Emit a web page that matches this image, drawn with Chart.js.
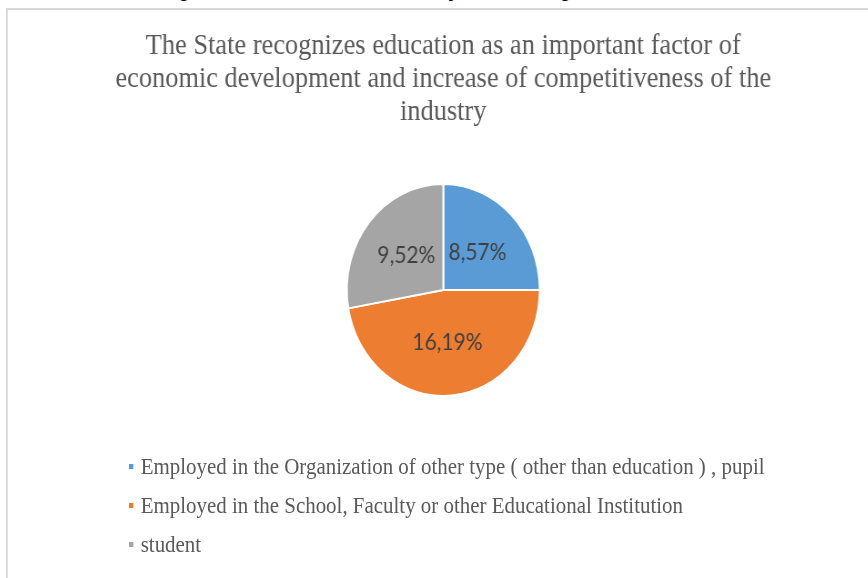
<!DOCTYPE html>
<html>
<head>
<meta charset="utf-8">
<title>Education as a factor of development</title>
<script src="https://cdn.jsdelivr.net/npm/chart.js@4.4.1/dist/chart.umd.min.js"></script>
<style>
  html, body { margin: 0; padding: 0; background: #fff; }
  #page { position: relative; width: 868px; height: 578px; overflow: hidden; background: #fff; }
  /* строка документа над рамкой диаграммы, почти целиком обрезана */
  #above { position: absolute; left: 16px; top: -25px; font: 26px "Liberation Serif", serif; line-height: 1; color: #000; white-space: nowrap; }
  #frame { position: absolute; left: 6px; top: 8px; width: 961px; height: 590px; border: 2px solid #dadada;
           box-sizing: border-box; transform: scaleX(0.91); transform-origin: 0 0; background: #fff; }
  #frame canvas { position: absolute; left: 0; top: 0; }
  #legend { position: absolute; left: 133px; top: 437px; font: 23px "Liberation Serif", serif; color: #595959; }
  #legend .item { height: 39px; line-height: 39px; white-space: nowrap; }
  #legend .box { display: inline-block; width: 5px; height: 5px; margin-right: 8px; vertical-align: middle; position: relative; top: -2px; }
</style>
</head>
<body>
<div id="page">
  <div id="above">increase of competitiveness of the industry in the Republic of Macedonia</div>
  <div id="frame">
    <canvas id="pie" width="957" height="586"></canvas>
    <div id="legend"></div>
  </div>
</div>
<script>
// Данные диаграммы
const titleLines = [
  'The State recognizes education as an important factor of',
  'economic development and increase of competitiveness of the',
  'industry'
];
const categories = [
  'Employed in the Organization of other type ( other than education ) , pupil',
  'Employed in the School, Faculty or other Educational Institution',
  'student'
];
const values = [8.57, 16.19, 9.52];
const colors = ['#5b9bd5', '#ed7d31', '#a5a5a5'];

// Подписи на секторах: 8,57%
const sliceLabels = values.map(v => v.toFixed(2).replace('.', ',') + '%');

const labelPlugin = {
  id: 'sliceLabels',
  afterDatasetsDraw(chart) {
    const ctx = chart.ctx;
    const meta = chart.getDatasetMeta(0);
    ctx.save();
    ctx.font = '23px Lato, "Open Sans", sans-serif';
    ctx.fillStyle = '#404040';
    ctx.textAlign = 'center';
    ctx.textBaseline = 'middle';
    meta.data.forEach((arc, i) => {
      const p = arc.tooltipPosition();
      ctx.fillText(sliceLabels[i], p.x, p.y);
    });
    ctx.restore();
  }
};

new Chart(document.getElementById('pie'), {
  type: 'pie',
  data: {
    labels: categories,
    datasets: [{
      data: values,
      backgroundColor: colors,
      borderColor: '#ffffff',
      borderWidth: 2,
      hoverOffset: 0
    }]
  },
  options: {
    responsive: false,
    animation: false,
    layout: { padding: { top: 0, bottom: 199, left: 0, right: 0 } },
    plugins: {
      legend: { display: false },
      tooltip: { enabled: false },
      title: {
        display: true,
        text: titleLines,
        color: '#595959',
        font: { family: '"Liberation Serif", serif', size: 29, weight: 'normal', lineHeight: 1.138 },
        padding: { top: 20, bottom: 54 }
      }
    }
  },
  plugins: [labelPlugin]
});

// Легенда списком слева, как в исходной диаграмме
const legend = document.getElementById('legend');
categories.forEach((name, i) => {
  const item = document.createElement('div');
  item.className = 'item';
  const box = document.createElement('span');
  box.className = 'box';
  box.style.background = colors[i];
  item.appendChild(box);
  item.appendChild(document.createTextNode(name));
  legend.appendChild(item);
});
</script>
</body>
</html>
